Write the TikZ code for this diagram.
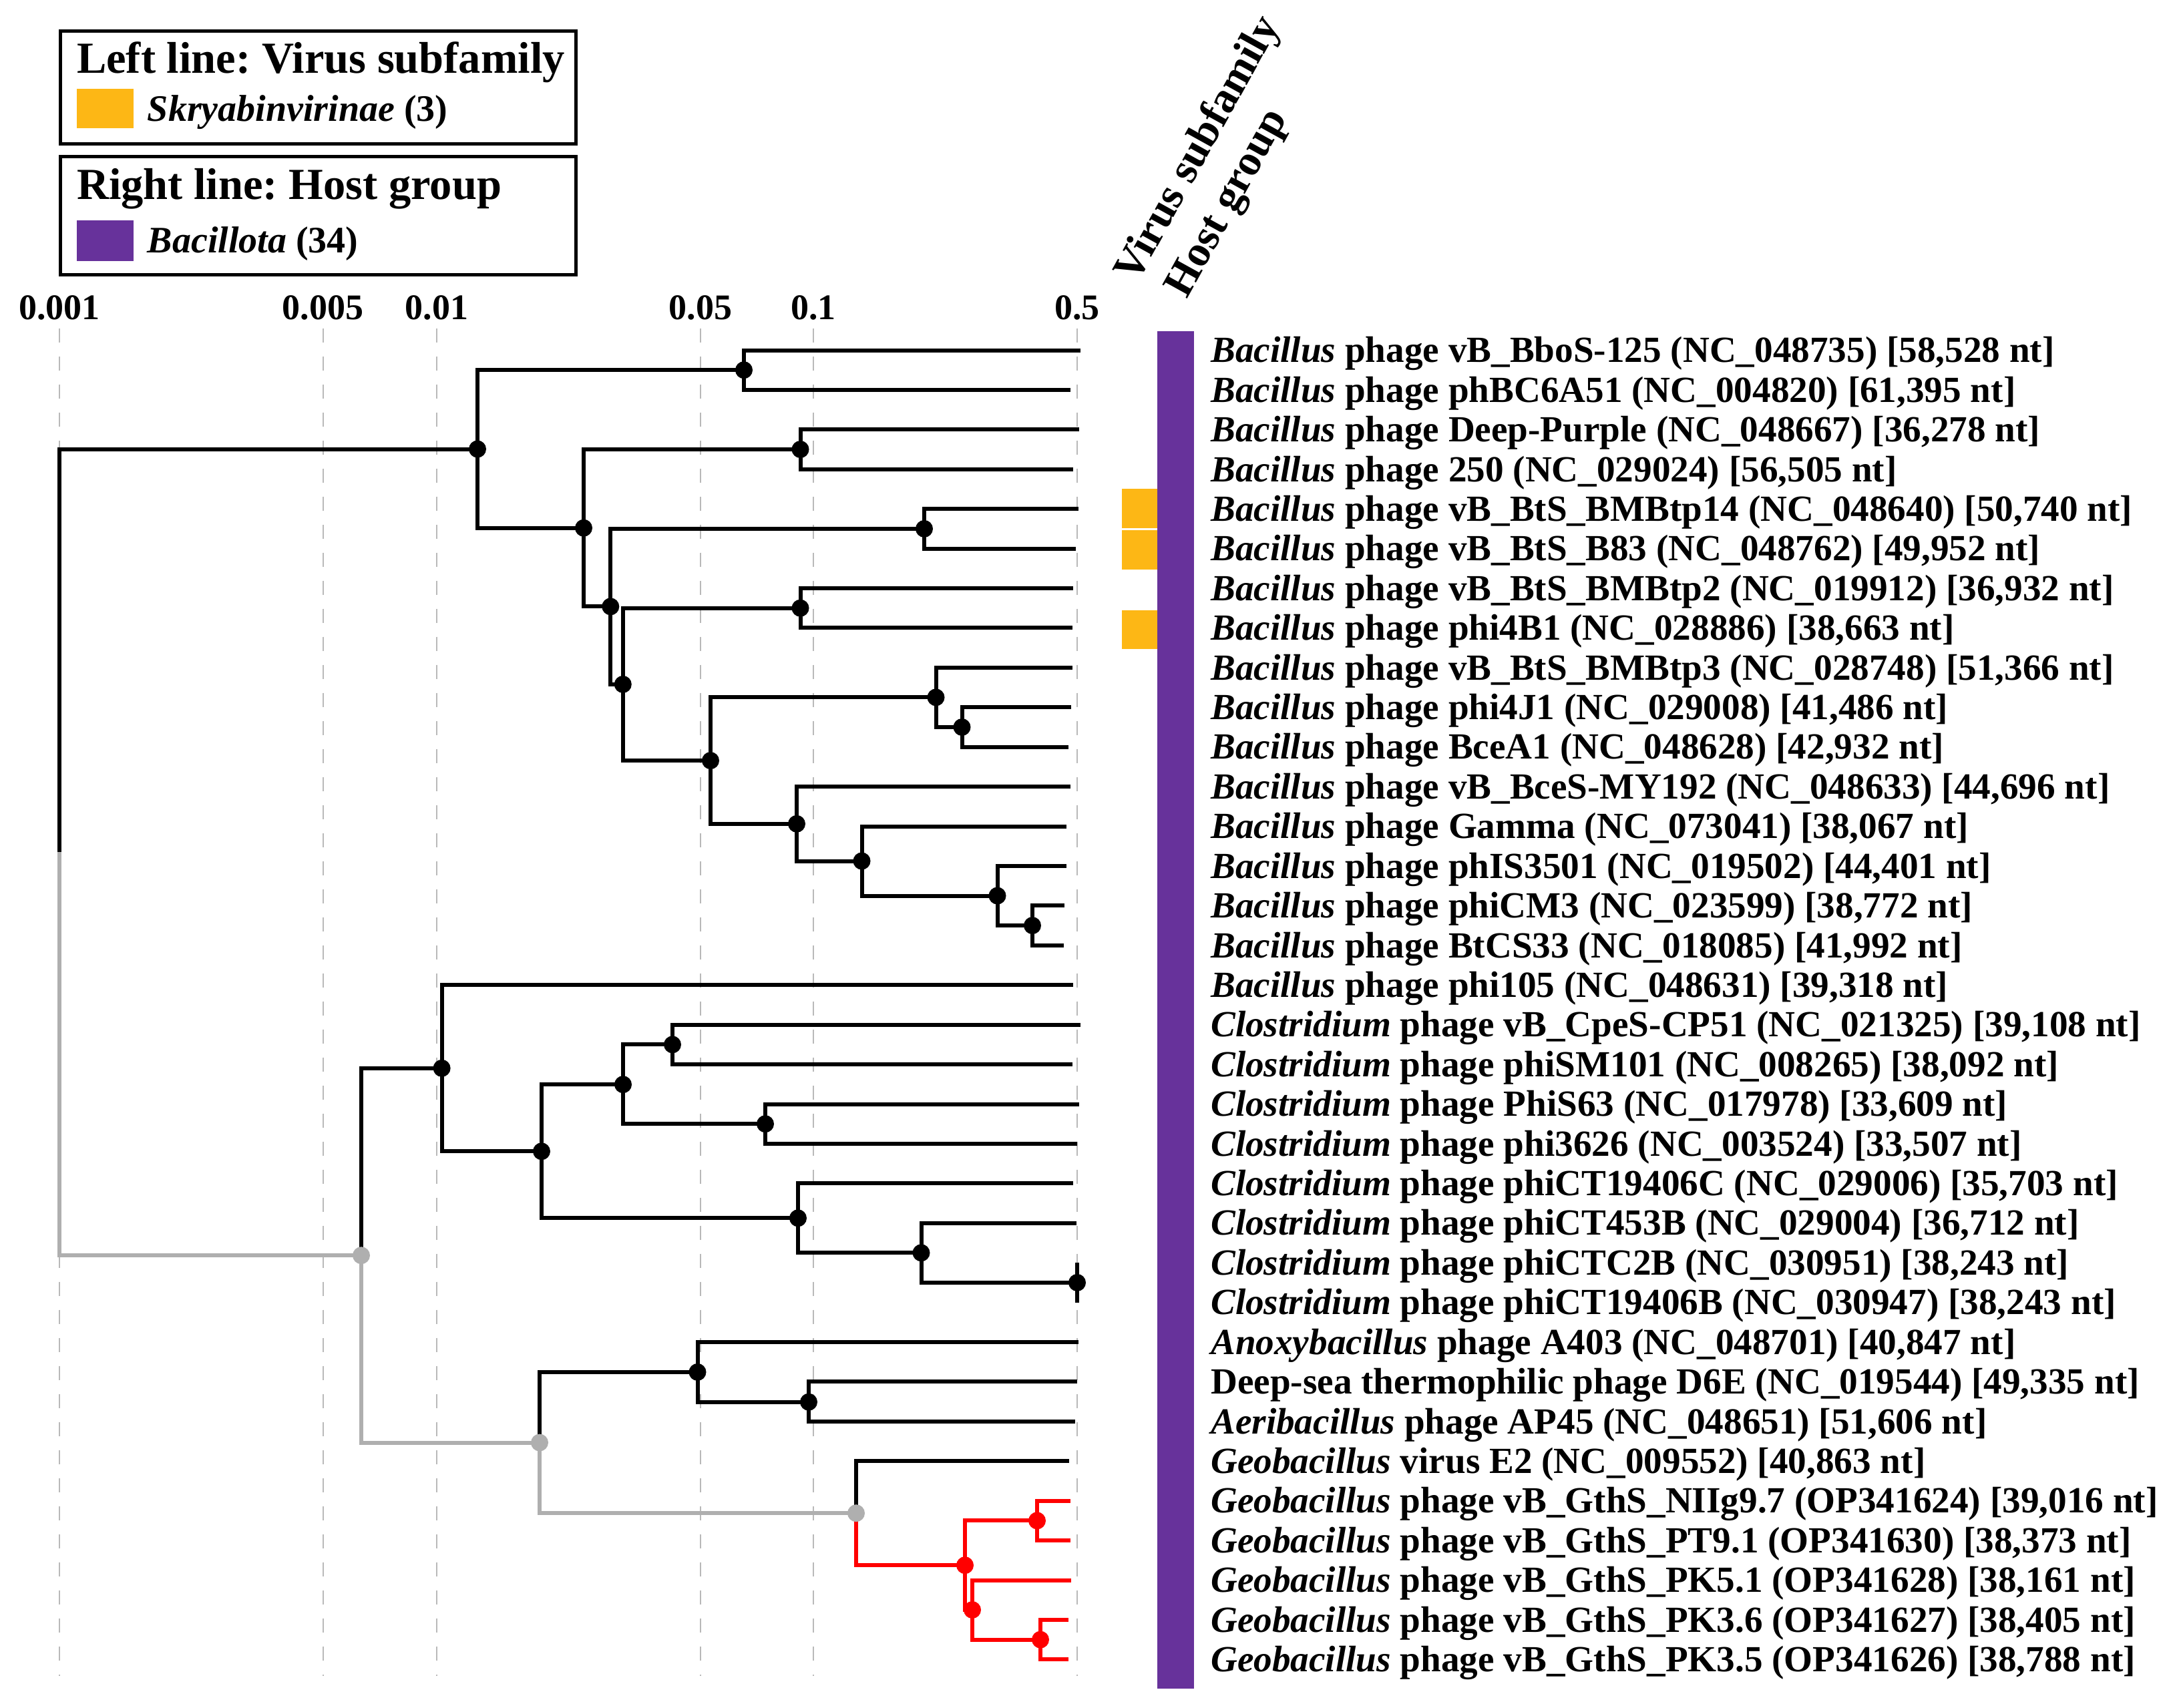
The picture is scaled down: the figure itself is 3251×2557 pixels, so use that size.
\documentclass[tikz,border=0pt]{standalone}
\usepackage{fontspec}
\setmainfont{Liberation Serif}
\frenchspacing
\definecolor{skry}{RGB}{253,183,21}
\definecolor{bacil}{RGB}{103,50,155}
\definecolor{gnode}{RGB}{175,175,175}
\definecolor{rnode}{RGB}{255,0,0}
\definecolor{gridc}{RGB}{185,185,185}
\tikzset{
  brk/.style={draw=black, line width=6pt, line join=miter, line cap=butt},
  brg/.style={brk, draw=gnode},
  brr/.style={brk, draw=rnode},
  leaflab/.style={anchor=base west, inner sep=0pt, font=\fontsize{55.2}{60}\selectfont\bfseries},
  ticklab/.style={anchor=base, inner sep=0pt, font=\fontsize{54}{60}\selectfont\bfseries},
  legtitle/.style={anchor=base west, inner sep=0pt, font=\fontsize{66.5}{72}\selectfont\bfseries},
  legitem/.style={anchor=base west, inner sep=0pt, font=\fontsize{56}{60}\selectfont\bfseries},
  coltitle/.style={anchor=base west, inner sep=0pt, rotate=61, font=\fontsize{65}{72}\selectfont\bfseries},
  gridln/.style={draw=gridc, line width=2pt, dash pattern=on 21pt off 21pt},
  legbox/.style={draw=black, line width=5pt},
}
\begin{document}
\begin{tikzpicture}[x=1pt,y=-1pt]
\useasboundingbox[fill=white] (0,0) rectangle (3251,2557);

% ---------- grid lines ----------
\foreach \gx/\gn in {89/a,483.7/b,654/c,1048.8/d,1218/e,1612.8/f}{
  \coordinate (gt\gn) at (\gx,491.5);
  \coordinate (gb\gn) at (\gx,2510);
  \draw[gridln] (gt\gn) -- (gb\gn);
}
% ---------- tick labels ----------
\node[ticklab] (tk1) at (89,478) {0.001};
\node[ticklab] (tk2) at (483.7,478) {0.005};
\node[ticklab] (tk3) at (654,478) {0.01};
\node[ticklab] (tk4) at (1048.8,478) {0.05};
\node[ticklab] (tk5) at (1218,478) {0.1};
\node[ticklab] (tk6) at (1612.8,478) {0.5};

% ---------- tree coordinates ----------
\coordinate (r) at (89,1276.4);
\coordinate (A) at (715,672.5);
\coordinate (n1) at (1114,554.2);
\coordinate (A2) at (874,790.7);
\coordinate (A3) at (1198.5,673);
\coordinate (A4) at (914.3,908.4);
\coordinate (A5) at (1384,791.9);
\coordinate (A6) at (932.8,1024.9);
\coordinate (A7) at (1198.5,910.7);
\coordinate (A8) at (1064,1139.1);
\coordinate (A9) at (1401.5,1044.4);
\coordinate (A9b) at (1440.5,1089);
\coordinate (A10) at (1193,1233.8);
\coordinate (A11) at (1290.5,1289.5);
\coordinate (A12) at (1493.5,1341.5);
\coordinate (A13) at (1546,1386.1);
\coordinate (G1) at (541,1880.2);
\coordinate (B) at (661.6,1599.8);
\coordinate (C) at (811,1724.3);
\coordinate (D) at (933,1624.2);
\coordinate (D1) at (1007,1564.4);
\coordinate (D2) at (1146,1683.2);
\coordinate (E) at (1195,1824.3);
\coordinate (E2) at (1379.5,1876.3);
\coordinate (E3) at (1613,1920.9);
\coordinate (G2) at (808,2160.5);
\coordinate (F) at (1044.5,2054.9);
\coordinate (F2) at (1211,2099.7);
\coordinate (G3) at (1282,2266.2);
\coordinate (R1) at (1445,2344.2);
\coordinate (R2) at (1553,2277.4);
\coordinate (R3) at (1456,2411);
\coordinate (R4) at (1558,2455.6);
% leaf tips
\coordinate (t0) at (1618,524.5);
\coordinate (t1) at (1603,583.9);
\coordinate (t2) at (1616,643.3);
\coordinate (t3) at (1607,702.8);
\coordinate (t4) at (1615,762.2);
\coordinate (t5) at (1611,821.6);
\coordinate (t6) at (1607,881.0);
\coordinate (t7) at (1606,940.4);
\coordinate (t8) at (1606,999.9);
\coordinate (t9) at (1604,1059.3);
\coordinate (t10) at (1600,1118.7);
\coordinate (t11) at (1603,1178.1);
\coordinate (t12) at (1597,1237.5);
\coordinate (t13) at (1597,1297.0);
\coordinate (t14) at (1594,1356.4);
\coordinate (t15) at (1593,1415.8);
\coordinate (t16) at (1607,1475.2);
\coordinate (t17) at (1618,1534.6);
\coordinate (t18) at (1606,1594.1);
\coordinate (t19) at (1616,1653.5);
\coordinate (t20) at (1613,1712.9);
\coordinate (t21) at (1607,1772.3);
\coordinate (t22) at (1612,1831.7);
\coordinate (t23) at (1613,1891.2);
\coordinate (t24) at (1613,1950.6);
\coordinate (t25) at (1615,2010.0);
\coordinate (t26) at (1613,2069.4);
\coordinate (t27) at (1609.6,2128.8);
\coordinate (t28) at (1601,2188.3);
\coordinate (t29) at (1603,2247.7);
\coordinate (t30) at (1603,2307.1);
\coordinate (t31) at (1604,2366.5);
\coordinate (t32) at (1600,2425.9);
\coordinate (t33) at (1600,2485.4);

% ---------- branches ----------
\draw[brk] (r) |- (A);
\draw[brg] (r) |- (G1);
\draw[brk] (A) |- (n1);  \draw[brk] (A) |- (A2);
\draw[brk] (n1) |- (t0); \draw[brk] (n1) |- (t1);
\draw[brk] (A2) |- (A3); \draw[brk] (A2) |- (A4);
\draw[brk] (A3) |- (t2); \draw[brk] (A3) |- (t3);
\draw[brk] (A4) |- (A5); \draw[brk] (A4) |- (A6);
\draw[brk] (A5) |- (t4); \draw[brk] (A5) |- (t5);
\draw[brk] (A6) |- (A7); \draw[brk] (A6) |- (A8);
\draw[brk] (A7) |- (t6); \draw[brk] (A7) |- (t7);
\draw[brk] (A8) |- (A9); \draw[brk] (A8) |- (A10);
\draw[brk] (A9) |- (t8); \draw[brk] (A9) |- (A9b);
\draw[brk] (A9b) |- (t9); \draw[brk] (A9b) |- (t10);
\draw[brk] (A10) |- (t11); \draw[brk] (A10) |- (A11);
\draw[brk] (A11) |- (t12); \draw[brk] (A11) |- (A12);
\draw[brk] (A12) |- (t13); \draw[brk] (A12) |- (A13);
\draw[brk] (A13) |- (t14); \draw[brk] (A13) |- (t15);
\draw[brk] (G1) |- (B);  \draw[brg] (G1) |- (G2);
\draw[brk] (B) |- (t16); \draw[brk] (B) |- (C);
\draw[brk] (C) |- (D);   \draw[brk] (C) |- (E);
\draw[brk] (D) |- (D1);  \draw[brk] (D) |- (D2);
\draw[brk] (D1) |- (t17); \draw[brk] (D1) |- (t18);
\draw[brk] (D2) |- (t19); \draw[brk] (D2) |- (t20);
\draw[brk] (E) |- (t21); \draw[brk] (E) |- (E2);
\draw[brk] (E2) |- (t22); \draw[brk] (E2) |- (E3);
\draw[brk] (E3) -- (t23); \draw[brk] (E3) -- (t24);
\draw[brk] (G2) |- (F);  \draw[brg] (G2) |- (G3);
\draw[brk] (F) |- (t25); \draw[brk] (F) |- (F2);
\draw[brk] (F2) |- (t26); \draw[brk] (F2) |- (t27);
\draw[brk] (G3) |- (t28); \draw[brr] (G3) |- (R1);
\draw[brr] (R1) |- (R2); \draw[brr] (R1) |- (R3);
\draw[brr] (R2) |- (t29); \draw[brr] (R2) |- (t30);
\draw[brr] (R3) |- (t31); \draw[brr] (R3) |- (R4);
\draw[brr] (R4) |- (t32); \draw[brr] (R4) |- (t33);

% ---------- node dots ----------
\foreach \n in {A,n1,A2,A3,A4,A5,A6,A7,A8,A9,A9b,A10,A11,A12,A13,B,C,D,D1,D2,E,E2,E3,F,F2}
  \fill[black] (\n) circle (13);
\foreach \n in {G1,G2,G3} \fill[gnode] (\n) circle (13);
\foreach \n in {R1,R2,R3,R4} \fill[rnode] (\n) circle (13);

% ---------- heatmap ----------
\fill[bacil] (1733,495.5) rectangle (1788,2529);
\fill[skry] (1679.5,732) rectangle (1733,790.5);
\fill[skry] (1679.5,794) rectangle (1733,853);
\fill[skry] (1679.5,913.5) rectangle (1733,972);

\node[coltitle] (ct1) at (1702,426) {Virus subfamily};
\node[coltitle] (ct2) at (1777,449) {Host group};

% ---------- leaf labels ----------
\node[leaflab] (l0) at (1813,542.7) {\textit{Bacillus} phage vB\_BboS-125 (NC\_048735) [58,528 nt]};
\node[leaflab] (l1) at (1813,602.1) {\textit{Bacillus} phage phBC6A51 (NC\_004820) [61,395 nt]};
\node[leaflab] (l2) at (1813,661.5) {\textit{Bacillus} phage Deep-Purple (NC\_048667) [36,278 nt]};
\node[leaflab] (l3) at (1813,721.0) {\textit{Bacillus} phage 250 (NC\_029024) [56,505 nt]};
\node[leaflab] (l4) at (1813,780.4) {\textit{Bacillus} phage vB\_BtS\_BMBtp14 (NC\_048640) [50,740 nt]};
\node[leaflab] (l5) at (1813,839.8) {\textit{Bacillus} phage vB\_BtS\_B83 (NC\_048762) [49,952 nt]};
\node[leaflab] (l6) at (1813,899.2) {\textit{Bacillus} phage vB\_BtS\_BMBtp2 (NC\_019912) [36,932 nt]};
\node[leaflab] (l7) at (1813,958.6) {\textit{Bacillus} phage phi4B1 (NC\_028886) [38,663 nt]};
\node[leaflab] (l8) at (1813,1018.1) {\textit{Bacillus} phage vB\_BtS\_BMBtp3 (NC\_028748) [51,366 nt]};
\node[leaflab] (l9) at (1813,1077.5) {\textit{Bacillus} phage phi4J1 (NC\_029008) [41,486 nt]};
\node[leaflab] (l10) at (1813,1136.9) {\textit{Bacillus} phage BceA1 (NC\_048628) [42,932 nt]};
\node[leaflab] (l11) at (1813,1196.3) {\textit{Bacillus} phage vB\_BceS-MY192 (NC\_048633) [44,696 nt]};
\node[leaflab] (l12) at (1813,1255.7) {\textit{Bacillus} phage Gamma (NC\_073041) [38,067 nt]};
\node[leaflab] (l13) at (1813,1315.2) {\textit{Bacillus} phage phIS3501 (NC\_019502) [44,401 nt]};
\node[leaflab] (l14) at (1813,1374.6) {\textit{Bacillus} phage phiCM3 (NC\_023599) [38,772 nt]};
\node[leaflab] (l15) at (1813,1434.0) {\textit{Bacillus} phage BtCS33 (NC\_018085) [41,992 nt]};
\node[leaflab] (l16) at (1813,1493.4) {\textit{Bacillus} phage phi105 (NC\_048631) [39,318 nt]};
\node[leaflab] (l17) at (1813,1552.8) {\textit{Clostridium} phage vB\_CpeS-CP51 (NC\_021325) [39,108 nt]};
\node[leaflab] (l18) at (1813,1612.3) {\textit{Clostridium} phage phiSM101 (NC\_008265) [38,092 nt]};
\node[leaflab] (l19) at (1813,1671.7) {\textit{Clostridium} phage PhiS63 (NC\_017978) [33,609 nt]};
\node[leaflab] (l20) at (1813,1731.1) {\textit{Clostridium} phage phi3626 (NC\_003524) [33,507 nt]};
\node[leaflab] (l21) at (1813,1790.5) {\textit{Clostridium} phage phiCT19406C (NC\_029006) [35,703 nt]};
\node[leaflab] (l22) at (1813,1849.9) {\textit{Clostridium} phage phiCT453B (NC\_029004) [36,712 nt]};
\node[leaflab] (l23) at (1813,1909.4) {\textit{Clostridium} phage phiCTC2B (NC\_030951) [38,243 nt]};
\node[leaflab] (l24) at (1813,1968.8) {\textit{Clostridium} phage phiCT19406B (NC\_030947) [38,243 nt]};
\node[leaflab] (l25) at (1813,2028.2) {\textit{Anoxybacillus} phage A403 (NC\_048701) [40,847 nt]};
\node[leaflab] (l26) at (1813,2087.6) {Deep-sea thermophilic phage D6E (NC\_019544) [49,335 nt]};
\node[leaflab] (l27) at (1813,2147.0) {\textit{Aeribacillus} phage AP45 (NC\_048651) [51,606 nt]};
\node[leaflab] (l28) at (1813,2206.5) {\textit{Geobacillus} virus E2 (NC\_009552) [40,863 nt]};
\node[leaflab] (l29) at (1813,2265.9) {\textit{Geobacillus} phage vB\_GthS\_NIIg9.7 (OP341624) [39,016 nt]};
\node[leaflab] (l30) at (1813,2325.3) {\textit{Geobacillus} phage vB\_GthS\_PT9.1 (OP341630) [38,373 nt]};
\node[leaflab] (l31) at (1813,2384.7) {\textit{Geobacillus} phage vB\_GthS\_PK5.1 (OP341628) [38,161 nt]};
\node[leaflab] (l32) at (1813,2444.1) {\textit{Geobacillus} phage vB\_GthS\_PK3.6 (OP341627) [38,405 nt]};
\node[leaflab] (l33) at (1813,2503.6) {\textit{Geobacillus} phage vB\_GthS\_PK3.5 (OP341626) [38,788 nt]};

% ---------- legends ----------
\draw[legbox] (90.5,46) rectangle (862.5,215);
\node[legtitle] (lt1) at (114.8,109.5) {Left line: Virus subfamily};
\fill[skry] (114.8,132.7) rectangle (200.3,192.4);
\node[legitem] (li1) at (220.7,181.5) {\textit{Skryabinvirinae} (3)};

\draw[legbox] (90.5,234.5) rectangle (862.5,411);
\node[legtitle] (lt2) at (114.8,298.5) {Right line: Host group};
\fill[bacil] (114.8,330.3) rectangle (200.3,391.3);
\node[legitem] (li2) at (220.7,378) {\textit{Bacillota} (34)};
\end{tikzpicture}
\end{document}
